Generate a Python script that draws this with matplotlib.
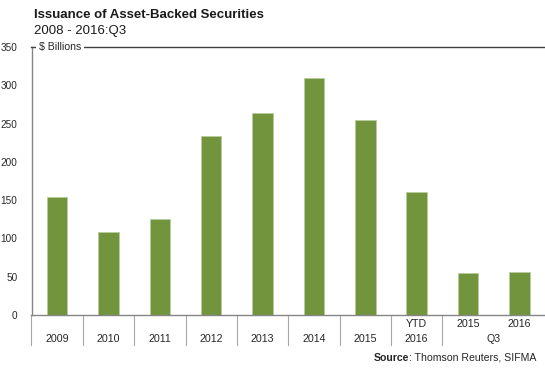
import matplotlib
matplotlib.use("Agg")
import matplotlib.pyplot as plt
from matplotlib.transforms import blended_transform_factory
from matplotlib.lines import Line2D

plt.rcParams['font.family'] = ['Liberation Sans', 'DejaVu Sans']

# ABS issuance, $ billions
labels = ["2009", "2010", "2011", "2012", "2013", "2014", "2015",
          "YTD\n2016", "2015", "2016"]
values = [154, 108.5, 126, 233.5, 264, 309.5, 255, 160, 55.5, 56.5]
y_ticks = [0, 50, 100, 150, 200, 250, 300, 350]

bar_color = "#72943c"
axis_color = "#858585"
text_color = "#262626"
lab_size = 7.7

fig = plt.figure(figsize=(5.45, 3.69), dpi=100)
ax = fig.add_axes([31.5 / 545, 1 - 315 / 369, 1 - 31.5 / 545, (315 - 47) / 369])

x = list(range(len(values)))
ax.bar(x, values, width=0.4, color=bar_color, edgecolor="#b9cc9c", linewidth=0.6)

ax.set_xlim(-0.5, len(values) - 0.5)
ax.set_ylim(0, 350)
ax.set_yticks(y_ticks)
ax.set_yticklabels([str(t) for t in y_ticks], fontsize=7.2, color=text_color)
ax.tick_params(axis="y", length=0, pad=10)
ax.set_xticks([])

ax.spines["right"].set_visible(False)
for side in ["left", "bottom", "top"]:
    ax.spines[side].set_color(axis_color)
    ax.spines[side].set_linewidth(1.0)
ax.spines["top"].set_color("#404040")

# unit label sitting on the top rule
ax.text(-0.35, 350, "$ Billions", fontsize=7.6, color=text_color, va="center", ha="left",
        bbox=dict(facecolor="white", edgecolor="none", pad=2), clip_on=False)

# category labels and separators under the axis
tr = blended_transform_factory(ax.transData, fig.transFigure)
y1 = 1 - 324 / 369
y2 = 1 - 339 / 369
for i, lab in enumerate(labels):
    if i >= 8:
        ax.text(i, y1, lab, transform=tr, fontsize=lab_size, color=text_color, ha="center", va="center")
    elif "\n" in lab:
        top, bot = lab.split("\n")
        ax.text(i, y1, top, transform=tr, fontsize=lab_size, color=text_color, ha="center", va="center")
        ax.text(i, y2, bot, transform=tr, fontsize=lab_size, color=text_color, ha="center", va="center")
    else:
        ax.text(i, y2, lab, transform=tr, fontsize=lab_size, color=text_color, ha="center", va="center")
ax.text(8.5, y2, "Q3", transform=tr, fontsize=lab_size, color=text_color, ha="center", va="center")

for b in [i - 0.5 for i in range(9)]:
    ax.add_line(Line2D([b, b], [1 - 315 / 369, 1 - 345 / 369], transform=tr,
                       color="#a6a6a6", linewidth=0.8, clip_on=False))

fig.text(34 / 545, 1 - 15 / 369, "Issuance of Asset-Backed Securities", fontsize=9.5,
         fontweight="bold", color="#1a1a1a", va="center", ha="left")
fig.text(34 / 545, 1 - 31 / 369, "2008 - 2016:Q3", fontsize=9.5, color="#1a1a1a",
         va="center", ha="left")

# source line: bold lead-in followed by regular text, right aligned
src = fig.text(536 / 545, 1 - 358 / 369, ": Thomson Reuters, SIFMA", fontsize=7.6,
               color=text_color, va="center", ha="right")
fig.canvas.draw()
bb = src.get_window_extent(renderer=fig.canvas.get_renderer())
fig.text(bb.x0 / fig.bbox.width, 1 - 358 / 369, "Source", fontsize=7.6, fontweight="bold",
         color=text_color, va="center", ha="right")

fig.savefig("out.png", dpi=100)
